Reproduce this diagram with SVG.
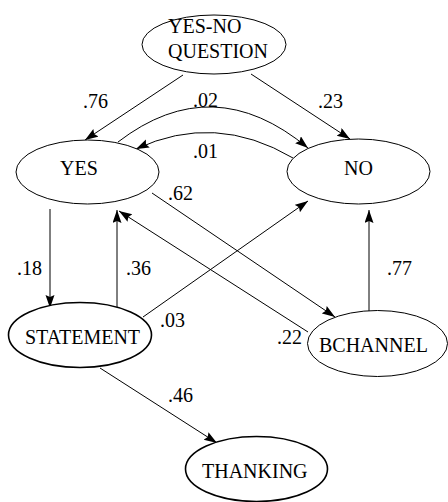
<svg xmlns="http://www.w3.org/2000/svg" width="448" height="502" viewBox="0 0 448 502">
<style>
.n{fill:#fff;stroke:#000;stroke-width:1}
.b{stroke-width:1.6}
.t{font-family:"Liberation Serif","Times New Roman",serif;font-size:20px;fill:#000}
.e{fill:none;stroke:#000;stroke-width:1;marker-end:url(#ah)}
</style>
<defs>
<marker id="ah" markerUnits="userSpaceOnUse" markerWidth="14" markerHeight="10" refX="13" refY="4.5" orient="auto">
<path d="M0,0 L13,4.5 L0,9 L2,4.5 z" fill="#000"/>
</marker>
</defs>
<rect width="448" height="502" fill="#fff"/>
<g id="connectors">
<path class="e" d="M183,75 L85,140"/>
<path class="e" d="M251,74 L350,139"/>
<path class="e" d="M118,142 Q213,69 308,148"/>
<path class="e" d="M293,158 Q215,112 136,149"/>
<path class="e" d="M152,193 L335,317"/>
<path class="e" d="M308,332 L119,211"/>
<path class="e" d="M143,317 L308,201"/>
<path class="e" d="M50,209 L50,308"/>
<path class="e" d="M117,310 L117,210"/>
<path class="e" d="M369,311 L369,210"/>
<path class="e" d="M100,368 L217,443"/>
</g>
<g id="labels" class="t">
<text x="83" y="108">.76</text>
<text x="193" y="107">.02</text>
<text x="318" y="108">.23</text>
<text x="193" y="158">.01</text>
<text x="168" y="200">.62</text>
<text x="17" y="275">.18</text>
<text x="126" y="275">.36</text>
<text x="387" y="275">.77</text>
<text x="160" y="327">.03</text>
<text x="277" y="344">.22</text>
<text x="168" y="402">.46</text>
</g>
<g id="question"><ellipse class="n" cx="214" cy="44.5" rx="72" ry="29.5"/><text class="t" x="168" y="33">YES-NO</text><text class="t" x="168" y="58">QUESTION</text></g>
<g id="yes"><ellipse class="n" cx="87.5" cy="172" rx="71.5" ry="32"/><text class="t" x="60" y="175">YES</text></g>
<g id="no"><ellipse class="n" cx="358.5" cy="171.5" rx="71.5" ry="32.5"/><text class="t" x="344" y="175">NO</text></g>
<g id="statement"><ellipse class="n b" cx="80" cy="335" rx="71.5" ry="32.5"/><text class="t" x="25" y="344">STATEMENT</text></g>
<g id="bchannel"><ellipse class="n" cx="377.5" cy="343.5" rx="70" ry="33"/><text class="t" x="319" y="352">BCHANNEL</text></g>
<g id="thanking"><ellipse class="n b" cx="256.5" cy="469" rx="71" ry="32.5"/><text class="t" x="202" y="478">THANKING</text></g>
</svg>
